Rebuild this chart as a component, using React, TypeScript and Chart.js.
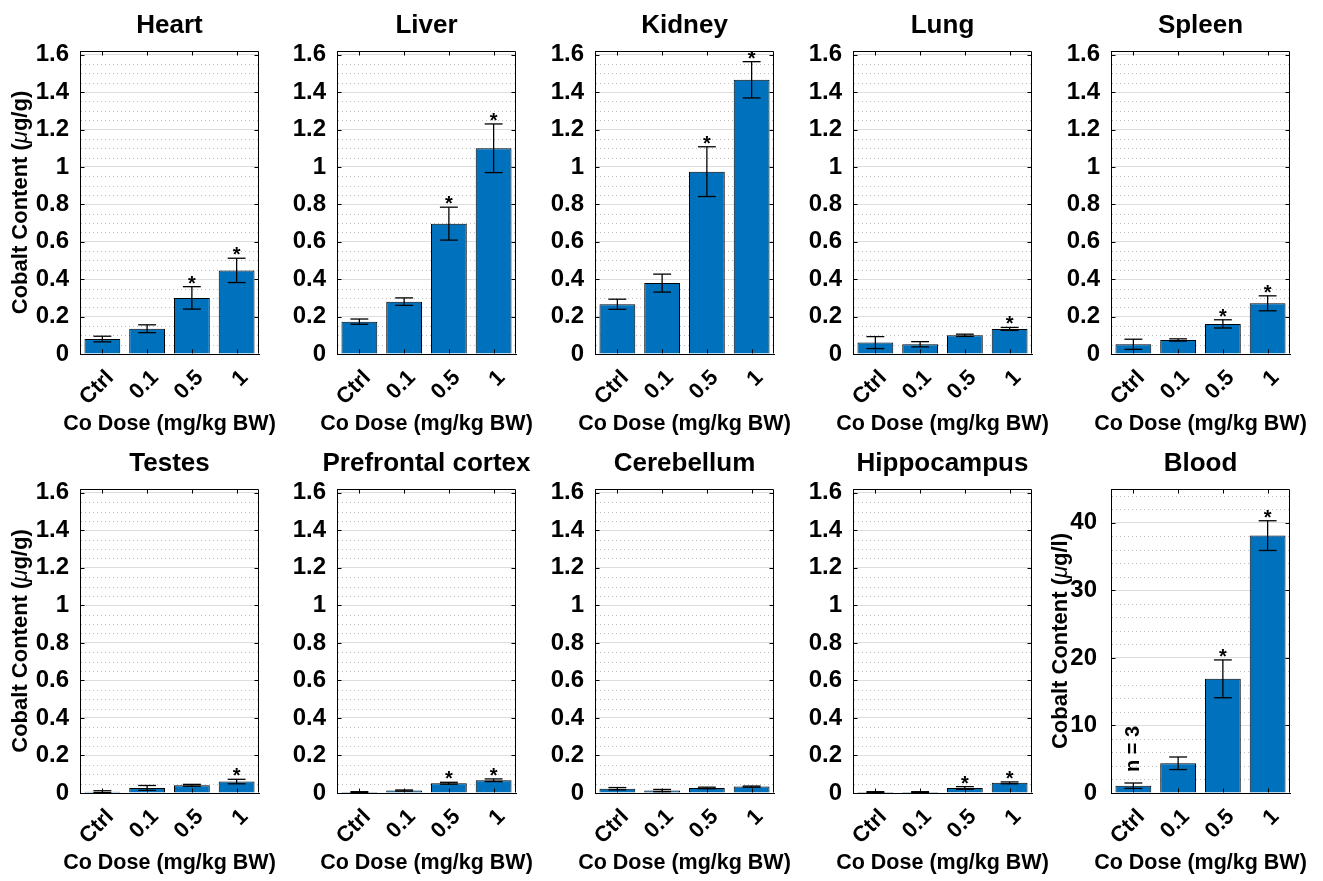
import React, { useEffect, useRef } from 'react';
import { Chart, registerables } from 'chart.js';

Chart.register(...registerables);

const FONT = "'Liberation Sans', Arial, Helvetica, sans-serif";
const BAR_BLUE = '#0072BD';

// ---------- data ----------
const doseLabels = ['Ctrl', '0.1', '0.5', '1'];

const heartMean = [0.08, 0.135, 0.3, 0.447];
const heartErr = [0.015, 0.021, 0.06, 0.065];
const heartSig = [false, false, true, true];

const liverMean = [0.173, 0.28, 0.697, 1.1];
const liverErr = [0.014, 0.02, 0.088, 0.13];
const liverSig = [false, false, true, true];

const kidneyMean = [0.266, 0.379, 0.975, 1.466];
const kidneyErr = [0.027, 0.048, 0.133, 0.097];
const kidneySig = [false, false, true, true];

const lungMean = [0.061, 0.052, 0.1, 0.134];
const lungErr = [0.032, 0.014, 0.006, 0.008];
const lungSig = [false, false, false, true];

const spleenMean = [0.052, 0.075, 0.161, 0.271];
const spleenErr = [0.027, 0.006, 0.022, 0.04];
const spleenSig = [false, false, true, true];

const testesMean = [0.007, 0.027, 0.041, 0.061];
const testesErr = [0.005, 0.013, 0.005, 0.012];
const testesSig = [false, false, false, true];

const prefrontalMean = [0.005, 0.013, 0.052, 0.068];
const prefrontalErr = [0.002, 0.003, 0.005, 0.007];
const prefrontalSig = [false, false, true, true];

const cerebellumMean = [0.023, 0.013, 0.027, 0.034];
const cerebellumErr = [0.006, 0.006, 0.004, 0.003];
const cerebellumSig = [false, false, false, false];

const hippocampusMean = [0.005, 0.005, 0.027, 0.054];
const hippocampusErr = [0.002, 0.002, 0.007, 0.005];
const hippocampusSig = [false, false, true, true];

const bloodMean = [1.08, 4.4, 16.9, 38.1];
const bloodErr = [0.4, 0.93, 2.8, 2.2];
const bloodSig = [false, false, true, true];

const tissueTicks = [0, 0.2, 0.4, 0.6, 0.8, 1, 1.2, 1.4, 1.6];
const tissueMax = 1.62;
const tissueMinor = 0.05;
const bloodTicks = [0, 10, 20, 30, 40];
const bloodMax = 45;
const bloodMinor = 2;

const tissueYTitle = ['Cobalt Content (', 'μ', 'g/g)'];
const bloodYTitle = ['Cobalt Content (', 'μ', 'g/l)'];
const xTitle = 'Co Dose (mg/kg BW)';
const bloodNote = 'n = 3';

// ---------- layout ----------
const colLefts = [80, 337, 595, 853, 1111];
const rowCanvasTop = [0, 438];
const plotTopRel = 51;
const plotBottomRel = [354, 355];
const CW = 300;
const CH = 440;
const YAXW = 80;
const PLOTW = 179;
const XAXH = 80;

type PanelDef = {
  title: string;
  mean: number[];
  err: number[];
  sig: boolean[];
  col: number;
  row: number;
  ticks: number[];
  yMax: number;
  minor: number;
  yTitle?: string[];
  yTitleOff?: number;
  yTickPad?: number;
  note?: string;
};

const panels: PanelDef[] = [
  { title: 'Heart', mean: heartMean, err: heartErr, sig: heartSig, col: 0, row: 0, ticks: tissueTicks, yMax: tissueMax, minor: tissueMinor, yTitle: tissueYTitle, yTitleOff: 59 },
  { title: 'Liver', mean: liverMean, err: liverErr, sig: liverSig, col: 1, row: 0, ticks: tissueTicks, yMax: tissueMax, minor: tissueMinor },
  { title: 'Kidney', mean: kidneyMean, err: kidneyErr, sig: kidneySig, col: 2, row: 0, ticks: tissueTicks, yMax: tissueMax, minor: tissueMinor },
  { title: 'Lung', mean: lungMean, err: lungErr, sig: lungSig, col: 3, row: 0, ticks: tissueTicks, yMax: tissueMax, minor: tissueMinor },
  { title: 'Spleen', mean: spleenMean, err: spleenErr, sig: spleenSig, col: 4, row: 0, ticks: tissueTicks, yMax: tissueMax, minor: tissueMinor },
  { title: 'Testes', mean: testesMean, err: testesErr, sig: testesSig, col: 0, row: 1, ticks: tissueTicks, yMax: tissueMax, minor: tissueMinor, yTitle: tissueYTitle, yTitleOff: 59 },
  { title: 'Prefrontal cortex', mean: prefrontalMean, err: prefrontalErr, sig: prefrontalSig, col: 1, row: 1, ticks: tissueTicks, yMax: tissueMax, minor: tissueMinor },
  { title: 'Cerebellum', mean: cerebellumMean, err: cerebellumErr, sig: cerebellumSig, col: 2, row: 1, ticks: tissueTicks, yMax: tissueMax, minor: tissueMinor },
  { title: 'Hippocampus', mean: hippocampusMean, err: hippocampusErr, sig: hippocampusSig, col: 3, row: 1, ticks: tissueTicks, yMax: tissueMax, minor: tissueMinor },
  { title: 'Blood', mean: bloodMean, err: bloodErr, sig: bloodSig, col: 4, row: 1, ticks: bloodTicks, yMax: bloodMax, minor: bloodMinor, yTitle: bloodYTitle, yTitleOff: 50, yTickPad: 14, note: bloodNote },
];

function line(ctx: CanvasRenderingContext2D, x1: number, y1: number, x2: number, y2: number) {
  ctx.beginPath();
  ctx.moveTo(x1, y1);
  ctx.lineTo(x2, y2);
  ctx.stroke();
}

function makeDecor(p: PanelDef) {
  return {
    id: 'matlabDecor',
    beforeDatasetsDraw(chart: any) {
      const { ctx, chartArea: a } = chart;
      const y = chart.scales.y;
      ctx.save();
      ctx.strokeStyle = '#bdbdbd';
      ctx.lineWidth = 1;
      ctx.setLineDash([1, 3]);
      const n = Math.floor(p.yMax / p.minor + 1e-6);
      for (let k = 1; k <= n; k++) {
        const v = k * p.minor;
        if (p.ticks.some((t) => Math.abs(t - v) < 1e-6)) continue;
        const py = Math.round(y.getPixelForValue(v)) + 0.5;
        line(ctx, a.left + 1, py, a.right, py);
      }
      ctx.restore();
    },
    afterDatasetsDraw(chart: any) {
      const { ctx, chartArea: a } = chart;
      const y = chart.scales.y;
      const x = chart.scales.x;
      const meta = chart.getDatasetMeta(0);
      ctx.save();
      ctx.setLineDash([]);
      ctx.strokeStyle = '#000';
      ctx.fillStyle = '#000';
      ctx.lineWidth = 1.3;
      meta.data.forEach((bar: any, i: number) => {
        const m = p.mean[i];
        const e = p.err[i];
        const bx = bar.x;
        const cap = bar.width * 0.25;
        const t = y.getPixelForValue(m + e);
        const b = y.getPixelForValue(Math.max(m - e, 0));
        line(ctx, bx, t, bx, b);
        line(ctx, bx - cap, t, bx + cap, t);
        line(ctx, bx - cap, b, bx + cap, b);
        if (p.sig[i]) {
          ctx.font = `bold 20px ${FONT}`;
          ctx.textAlign = 'center';
          ctx.textBaseline = 'alphabetic';
          ctx.fillText('*', bx, t + 3);
        }
        if (p.note && i === 0) {
          ctx.save();
          ctx.translate(bx, t - 11);
          ctx.rotate(-Math.PI / 2);
          ctx.font = `bold 20px ${FONT}`;
          ctx.textAlign = 'left';
          ctx.textBaseline = 'middle';
          ctx.fillText(p.note, 0, 0);
          ctx.restore();
        }
      });
      // box
      ctx.lineWidth = 1;
      const L = Math.round(a.left) + 0.5;
      const R = Math.round(a.right) - 0.5;
      const T = Math.round(a.top) + 0.5;
      const B = Math.round(a.bottom) - 0.5;
      line(ctx, L, T, R, T);
      line(ctx, R, T, R, B);
      // inward ticks
      const tl = 4;
      p.ticks.forEach((v) => {
        const py = Math.round(y.getPixelForValue(v)) + 0.5;
        line(ctx, L, py, L + tl, py);
        line(ctx, R - tl, py, R, py);
      });
      doseLabels.forEach((_, i) => {
        const px = Math.round(x.getPixelForTick(i)) + 0.5;
        line(ctx, px, T, px, T + tl);
        line(ctx, px, B - tl, px, B);
      });
      ctx.restore();
    },
    afterDraw(chart: any) {
      const { ctx, chartArea: a } = chart;
      const cx = (a.left + a.right) / 2;
      ctx.save();
      ctx.fillStyle = '#000';
      // panel title
      ctx.font = `bold 26px ${FONT}`;
      ctx.textAlign = 'center';
      ctx.textBaseline = 'middle';
      ctx.fillText(p.title, cx, a.top - 25);
      // x title
      ctx.font = `bold 21.5px ${FONT}`;
      ctx.fillText(xTitle, cx, a.bottom + 70);
      // y title
      if (p.yTitle) {
        const parts = p.yTitle;
        const fonts = parts.map((_, k) => (k === 1 ? `italic 22px ${FONT}` : `bold 22px ${FONT}`));
        const widths = parts.map((s, k) => {
          ctx.font = fonts[k];
          return ctx.measureText(s).width;
        });
        const total = widths.reduce((s, w) => s + w, 0);
        ctx.translate(a.left - (p.yTitleOff || 59), (a.top + a.bottom) / 2);
        ctx.rotate(-Math.PI / 2);
        ctx.textAlign = 'left';
        let pos = -total / 2;
        parts.forEach((s, k) => {
          ctx.font = fonts[k];
          ctx.fillText(s, pos, 0);
          pos += widths[k];
        });
      }
      ctx.restore();
    },
  };
}

function PanelChart({ p }: { p: PanelDef }) {
  const ref = useRef<HTMLCanvasElement>(null);
  useEffect(() => {
    if (!ref.current) return;
    const plotBottom = plotBottomRel[p.row];
    const chart = new Chart(ref.current, {
      type: 'bar',
      data: {
        labels: doseLabels,
        datasets: [
          {
            data: p.mean,
            backgroundColor: BAR_BLUE,
            borderColor: '#000',
            borderWidth: 1,
            barPercentage: 0.8,
            categoryPercentage: 1,
          },
        ],
      },
      options: {
        responsive: false,
        animation: false,
        devicePixelRatio: 1,
        events: [],
        layout: {
          padding: {
            left: 0,
            right: CW - YAXW - PLOTW,
            top: plotTopRel,
            bottom: CH - plotBottom - XAXH,
          },
        },
        plugins: {
          legend: { display: false },
          tooltip: { enabled: false },
          title: { display: false },
        },
        scales: {
          x: {
            type: 'category',
            offset: true,
            grid: { display: false, drawTicks: false },
            border: { display: true, color: '#000', width: 1 },
            ticks: {
              minRotation: 45,
              maxRotation: 45,
              autoSkip: false,
              padding: 11,
              labelOffset: 8,
              color: '#000',
              font: { family: FONT, size: 22, weight: 'bold' },
            },
            afterFit: (s: any) => {
              s.height = XAXH;
            },
          },
          y: {
            type: 'linear',
            min: 0,
            max: p.yMax,
            afterBuildTicks: (s: any) => {
              s.ticks = p.ticks.map((v) => ({ value: v }));
            },
            grid: { color: '#dddddd', lineWidth: 1, drawTicks: false },
            border: { display: true, color: '#000', width: 1 },
            ticks: {
              padding: p.yTickPad || 11,
              color: '#000',
              font: { family: FONT, size: 24, weight: 'bold' },
              callback: (v: any) => String(Math.round(Number(v) * 1000) / 1000),
            },
            afterFit: (s: any) => {
              s.width = YAXW;
            },
          },
        },
      },
      plugins: [makeDecor(p)],
    } as any);
    return () => chart.destroy();
  }, [p]);
  return (
    <canvas
      ref={ref}
      width={CW}
      height={CH}
      style={{
        position: 'absolute',
        left: colLefts[p.col] - YAXW,
        top: rowCanvasTop[p.row],
        width: CW,
        height: CH,
      }}
    />
  );
}

export default function App() {
  return (
    <div
      style={{
        position: 'absolute',
        left: 0,
        top: 0,
        width: 1323,
        height: 881,
        overflow: 'hidden',
        background: '#fff',
      }}
    >
      {panels.map((p, i) => (
        <PanelChart key={i} p={p} />
      ))}
    </div>
  );
}
